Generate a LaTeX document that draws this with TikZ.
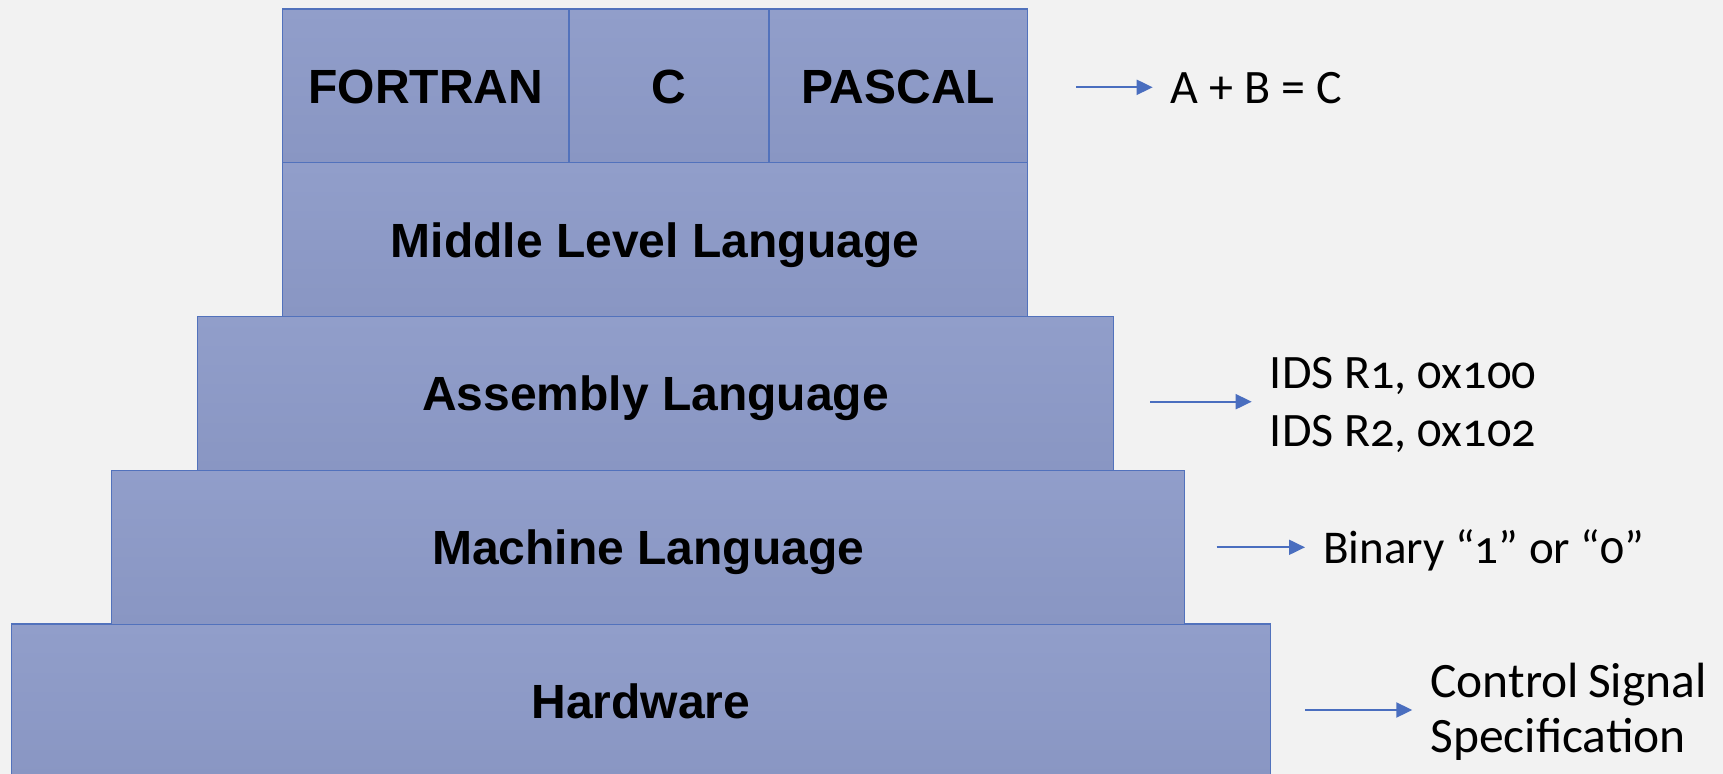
\documentclass[tikz,border=0pt]{standalone}
\usepackage{fontspec}
\usetikzlibrary{arrows.meta}
\newfontfamily\boxfont{Liberation Sans}
\newfontfamily\notefont{Carlito}[Numbers=OldStyle]
\definecolor{pagebg}{HTML}{F2F2F2}
\definecolor{boxtop}{HTML}{919ECA}
\definecolor{boxbot}{HTML}{8996C3}
\definecolor{boxline}{HTML}{5272BC}
\definecolor{arrowblue}{HTML}{4A6EBF}
\tikzset{
  layer/.style={rectangle, draw=boxline, line width=1.4bp, top color=boxtop,
    bottom color=boxbot, inner sep=0pt, minimum height=153.9bp,
    text height=35bp, text depth=0bp,
    font=\boxfont\bfseries\fontsize{48bp}{56bp}\selectfont, text=black},
  note/.style={anchor=west, inner xsep=18bp, inner ysep=0pt, align=left,
    font=\notefont\fontsize{48bp}{55bp}\selectfont, text=black},
  pointer/.style={draw=arrowblue, line width=2bp,
    -{Triangle[length=16bp,width=15bp]}},
}
\begin{document}
\begin{tikzpicture}[x=1bp,y=-1bp]
  \useasboundingbox (0,0) rectangle (1723,774);
  \fill[pagebg] (0,0) rectangle (1723,774);
  \clip (0,0) rectangle (1723,774);

  % stacked language layers, bottom to top
  \node[layer, minimum width=1259bp] (hw)   at (640.8,701.0) {Hardware};
  \node[layer, minimum width=1073bp] (mach) at (648.2,547.3) {Machine Language};
  \node[layer, minimum width=915.4bp] (asm)  at (655.5,393.4) {Assembly Language};
  \node[layer, minimum width=745bp]  (mid)  at (655.0,239.6) {Middle Level Language};
  \node[layer, minimum width=286.6bp, minimum height=153.6bp] (fortran) at (425.7,85.8) {FORTRAN};
  \node[layer, minimum width=200bp,   minimum height=153.6bp] (clang)   at (669.0,85.8) {C};
  \node[layer, minimum width=258.5bp, minimum height=153.6bp] (pascal)  at (898.2,85.8) {PASCAL};

  % example notes on the right
  \coordinate (tA) at (1076,87.3);
  \coordinate (tB) at (1150,401.7);
  \coordinate (tC) at (1216.7,547.3);
  \coordinate (tD) at (1305,710);

  \node[note, anchor=base west] (nA) at (1152.7,103.3) {A + B = C};
  \node[note] (nB) at (1251.7,404.5) {IDS R1, 0x100\\[3bp]IDS R2, 0x102};
  \node[note, anchor=base west, font=\notefont\fontsize{47bp}{55bp}\selectfont]
    (nC) at (1305,563.3) {Binary “1” or “0”};
  \node[note, font=\notefont\fontsize{49.5bp}{55bp}\selectfont]
    (nD) at (1412.3,712.0) {Control\kern-2bp\ Signal\\Specification};

  \draw[pointer] (tA) -- (tA -| nA.west);
  \draw[pointer] (tB) -- (tB -| nB.west);
  \draw[pointer] (tC) -- (tC -| nC.west);
  \draw[pointer] (tD) -- (tD -| nD.west);
\end{tikzpicture}
\end{document}
